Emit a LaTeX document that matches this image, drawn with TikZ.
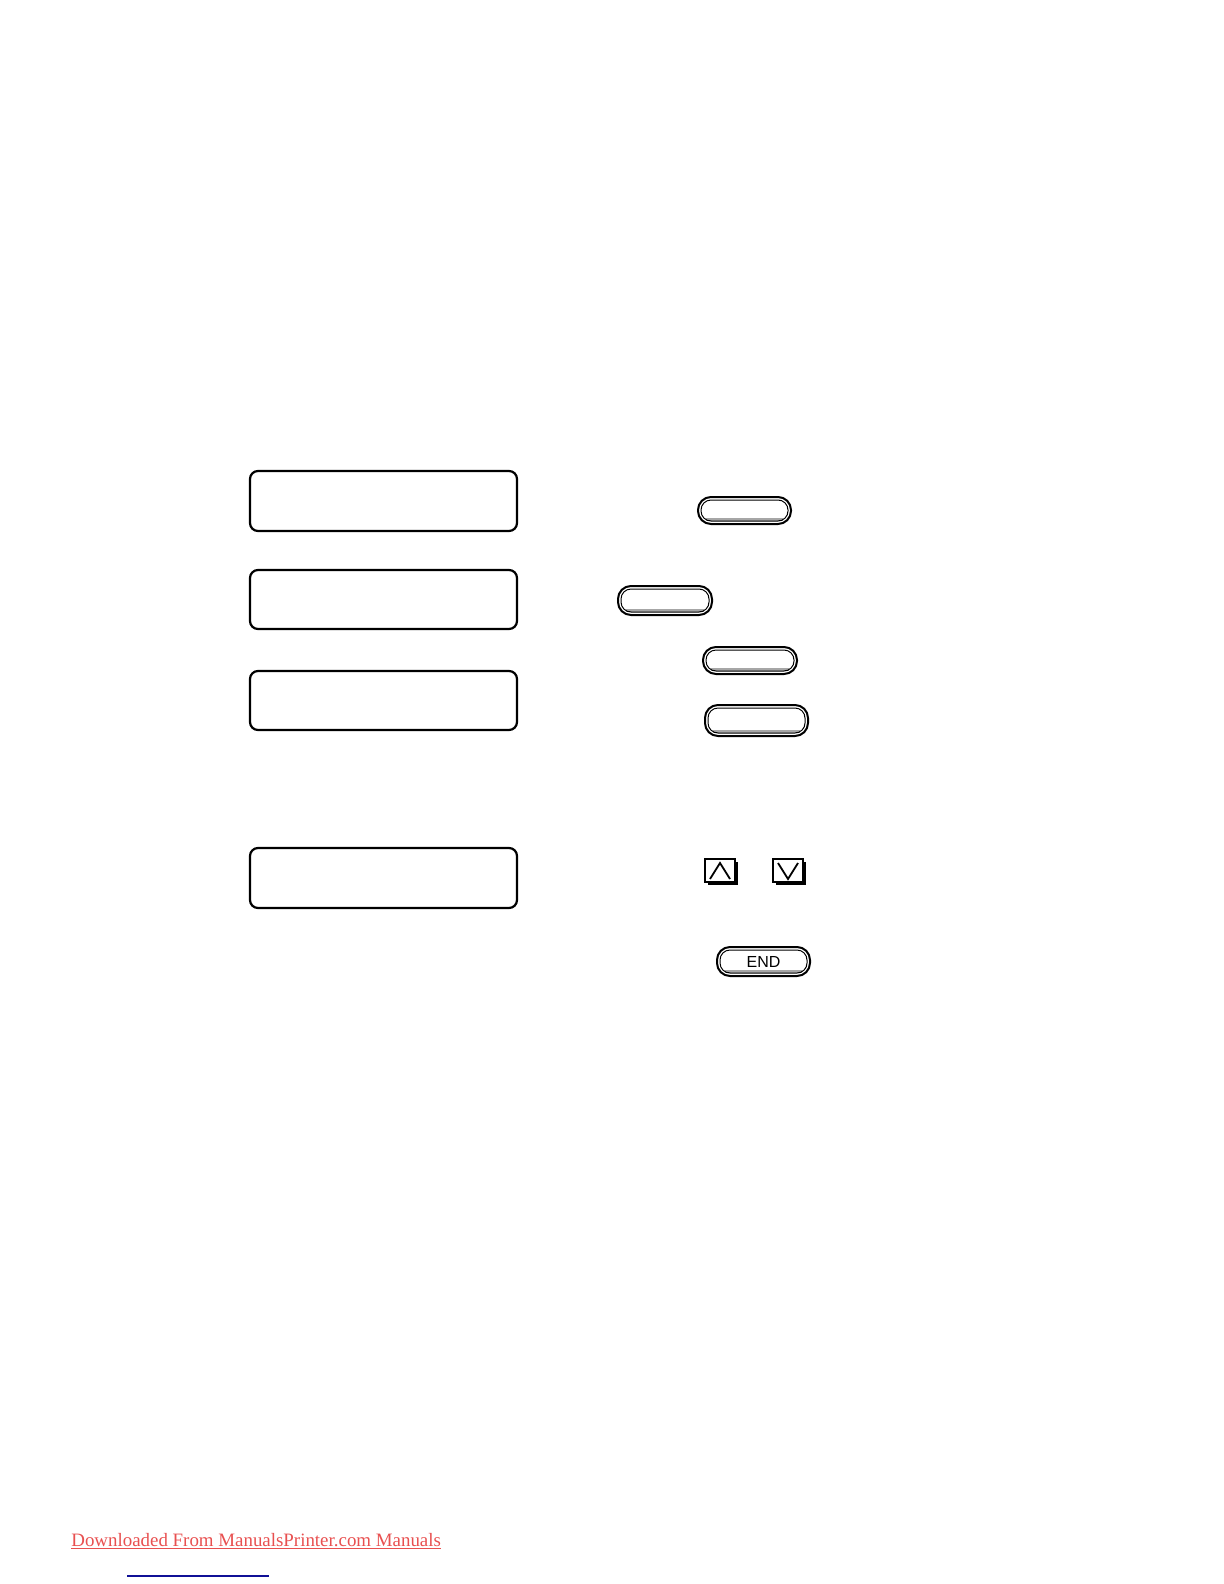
\documentclass[tikz,border=0pt]{standalone}
\usepackage{fontspec}
\setmainfont{Liberation Serif}
\newfontfamily\keyfont{Liberation Sans}
\usetikzlibrary{calc}
\definecolor{linkred}{RGB}{232,80,80}
\definecolor{linkblue}{RGB}{16,16,150}
\def\lcdpanel(#1,#2)(#3,#4){\draw[line width=1.1pt, rounded corners=4pt] (#1,#2) rectangle (#3,#4);}
\def\pillkey(#1,#2)(#3,#4){%
	\draw[line width=1pt, rounded corners=6.5pt] (#1,#2) rectangle (#3,#4);
	\draw[line width=1.2pt, color=black!35] ($(#1,#4)+(8,-4.5)$) -- ($(#3,#4)+(-8,-4.5)$);
	\draw[line width=0.5pt, rounded corners=5pt] ($(#1,#2)+(3,3)$) rectangle ($(#3,#4)+(-3,-3)$);}
\def\arrowkey(#1,#2)(#3:#4){%
	\fill ($(#1,#2)+(3,3)$) rectangle ($(#1,#2)+(33,26)$);
	\draw[line width=1.1pt, fill=white] (#1,#2) rectangle ($(#1,#2)+(30,23)$);
	\draw[line width=0.9pt] ($(#1,#2)+(5,#3)$) -- ($(#1,#2)+(15,#4)$) -- ($(#1,#2)+(25,#3)$);}

\begin{document}
\begin{tikzpicture}[x=0.5pt, y=-0.5pt]
			%%%%% START %%%%%
			\useasboundingbox (0, 0) rectangle (1224, 1584);
			
			\lcdpanel(250, 471)(517, 531)
			\lcdpanel(250, 570)(517, 629)
			\lcdpanel(250, 671)(517, 730)
			\lcdpanel(250, 848)(517, 908)
			
			\pillkey(698, 497)(791, 524)
			\pillkey(618, 586)(712, 615)
			\pillkey(703, 647)(797, 674)
			\pillkey(705, 705)(808, 736)
			
			\arrowkey(705, 859)(20:4)
			\arrowkey(773, 859)(4:20)
			
			\pillkey(717, 947)(810, 976)
			\node[font=\keyfont\fontsize{8}{9.5}\selectfont] (endlabel) at (763.5, 961.5) {END};
			
			\node[anchor=base west, inner sep=0pt, text=linkred, font=\fontsize{9.45}{12}\selectfont] (source) at (71, 1546) {Downloaded From ManualsPrinter.com Manuals};
			\draw[linkred, line width=0.5pt] ($(source.base west)+(0, 2.5)$) -- ($(source.base east)+(0, 2.5)$);
			
			\draw[linkblue, line width=0.8pt] (127, 1576) -- (269, 1576);
			
			%%%%% END %%%%%
\end{tikzpicture}
\end{document}
